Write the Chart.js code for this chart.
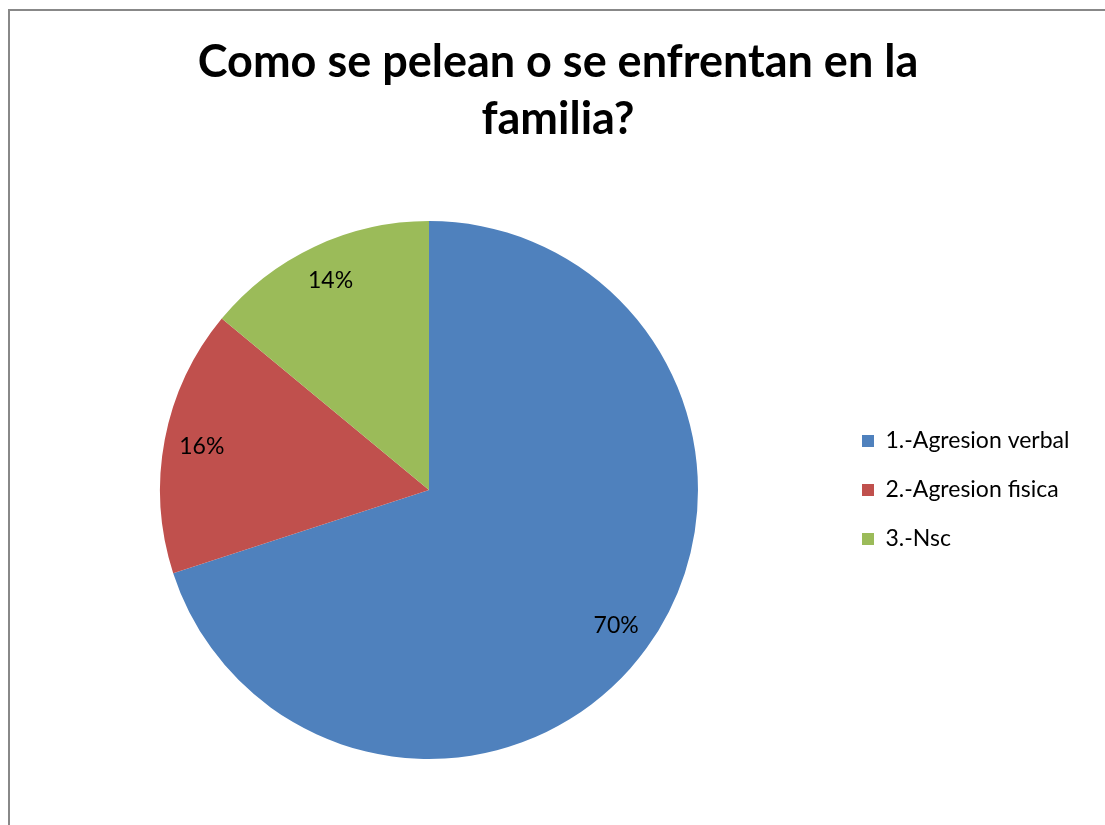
<!DOCTYPE html>
<html>
<head>
<meta charset="utf-8">
<script src="https://cdn.jsdelivr.net/npm/chart.js@4/dist/chart.umd.min.js"></script>
<style>
    html, body { margin: 0; padding: 0; background: #fff; }
    #frame {
        position: absolute; left: 8px; top: 9px; width: 1200px; height: 900px;
        border-left: 2px solid #888; border-top: 2px solid #888;
    }
    #chart { position: absolute; left: 0; top: 0; }
</style>
</head>
<body>
<div id="frame"></div>
<canvas id="chart" width="1105" height="825"></canvas>
<script>
// data
const titleLines = ["Como se pelean o se enfrentan en la", "familia?"];
const categories = ["1.-Agresion verbal", "2.-Agresion fisica", "3.-Nsc"];
const percents = [70, 16, 14];
const sliceColors = ["#4F81BD", "#C0504D", "#9BBB59"];

const fontFamily = "Lato, 'Open Sans', sans-serif";
const legendWidth = 258;

// percent labels placed inside each slice, like Excel does
const sliceLabels = {
    id: "sliceLabels",
    afterDatasetsDraw(chart) {
        const ctx = chart.ctx;
        const meta = chart.getDatasetMeta(0);
        ctx.save();
        ctx.font = "23px " + fontFamily;
        ctx.fillStyle = "#000";
        ctx.textAlign = "center";
        ctx.textBaseline = "middle";
        meta.data.forEach((arc, i) => {
            const mid = (arc.startAngle + arc.endAngle) / 2;
            const r = arc.outerRadius * 0.86;
            ctx.fillText(percents[i] + "%", arc.x + Math.cos(mid) * r, arc.y + Math.sin(mid) * r);
        });
        ctx.restore();
    }
};

const chart = new Chart(document.getElementById("chart"), {
    type: "pie",
    data: {
        labels: categories,
        datasets: [{
            data: percents,
            backgroundColor: sliceColors,
            borderWidth: 0
        }]
    },
    options: {
        responsive: false,
        animation: false,
        devicePixelRatio: 1,
        layout: { padding: { left: 22, right: 11, top: 10, bottom: 66 } },
        plugins: {
            tooltip: { enabled: false },
            title: {
                display: true,
                text: titleLines,
                color: "#000",
                font: { family: fontFamily, size: 45, weight: "bold", lineHeight: 1.267 },
                padding: { top: 24, bottom: 73 }
            },
            legend: {
                position: "right",
                fullSize: false,
                labels: {
                    boxWidth: 12,
                    boxHeight: 12,
                    padding: 26,
                    color: "#000",
                    font: { family: fontFamily, size: 23 }
                }
            }
        }
    }
    ,
    plugins: [sliceLabels]
});

// keep the legend column a fixed width so the pie sits left of centre like the original
const fitLegend = chart.legend.fit;
chart.legend.fit = function () {
    fitLegend.call(this);
    this.width = legendWidth;
};
chart.update();
</script>
</body>
</html>
